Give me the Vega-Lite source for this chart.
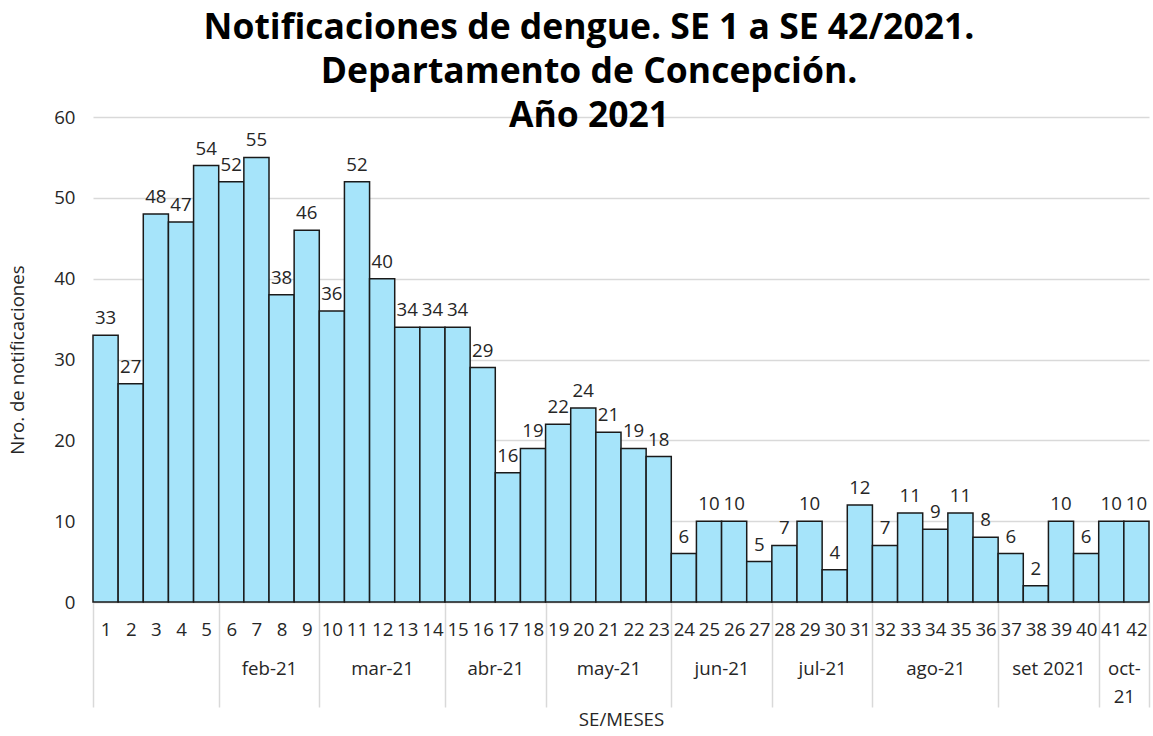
{
  "$schema": "https://vega.github.io/schema/vega-lite/v6.json",
  "width": 1056,
  "height": 485,
  "autosize": {"type": "none"},
  "padding": {"left": 93, "top": 117, "right": 4, "bottom": 134},
  "background": "white",
  "config": {
    "view": {"stroke": null},
    "font": "Open Sans",
    "text": {"font": "Open Sans"}
  },
  "title": {
    "text": ["Notificaciones de dengue. SE 1 a SE 42/2021.", "Departamento de Concepción.", "Año 2021"],
    "font": "Open Sans",
    "fontSize": 35.5,
    "fontWeight": "bold",
    "lineHeight": 44,
    "color": "#000000",
    "anchor": "middle",
    "dx": -32,
    "offset": -26
  },
  "datasets": {
    "semanas": [
      {"SE": 1, "n": 33}, {"SE": 2, "n": 27}, {"SE": 3, "n": 48}, {"SE": 4, "n": 47}, {"SE": 5, "n": 54},
      {"SE": 6, "n": 52}, {"SE": 7, "n": 55}, {"SE": 8, "n": 38}, {"SE": 9, "n": 46}, {"SE": 10, "n": 36},
      {"SE": 11, "n": 52}, {"SE": 12, "n": 40}, {"SE": 13, "n": 34}, {"SE": 14, "n": 34}, {"SE": 15, "n": 34},
      {"SE": 16, "n": 29}, {"SE": 17, "n": 16}, {"SE": 18, "n": 19}, {"SE": 19, "n": 22}, {"SE": 20, "n": 24},
      {"SE": 21, "n": 21}, {"SE": 22, "n": 19}, {"SE": 23, "n": 18}, {"SE": 24, "n": 6}, {"SE": 25, "n": 10},
      {"SE": 26, "n": 10}, {"SE": 27, "n": 5}, {"SE": 28, "n": 7}, {"SE": 29, "n": 10}, {"SE": 30, "n": 4},
      {"SE": 31, "n": 12}, {"SE": 32, "n": 7}, {"SE": 33, "n": 11}, {"SE": 34, "n": 9}, {"SE": 35, "n": 11},
      {"SE": 36, "n": 8}, {"SE": 37, "n": 6}, {"SE": 38, "n": 2}, {"SE": 39, "n": 10}, {"SE": 40, "n": 6},
      {"SE": 41, "n": 10}, {"SE": 42, "n": 10}
    ],
    "meses": [
      {"mes": "", "inicio": 0.5, "centro": 3},
      {"mes": "feb-21", "inicio": 5.5, "centro": 7.5},
      {"mes": "mar-21", "inicio": 9.5, "centro": 12},
      {"mes": "abr-21", "inicio": 14.5, "centro": 16.5},
      {"mes": "may-21", "inicio": 18.5, "centro": 21},
      {"mes": "jun-21", "inicio": 23.5, "centro": 25.5},
      {"mes": "jul-21", "inicio": 27.5, "centro": 29.5},
      {"mes": "ago-21", "inicio": 31.5, "centro": 34},
      {"mes": "set 2021", "inicio": 36.5, "centro": 38.5},
      {"mes": "oct-21", "inicio": 40.5, "centro": 41.5}
    ]
  },
  "resolve": {"axis": {"x": "independent"}},
  "layer": [
    {
      "data": {"name": "semanas"},
      "transform": [
        {"calculate": "datum.SE - 0.5", "as": "x0"},
        {"calculate": "datum.SE + 0.5", "as": "x1"}
      ],
      "mark": {"type": "bar", "fill": "#A6E4FA", "stroke": "#1A1A1A", "strokeWidth": 1.5},
      "encoding": {
        "x": {
          "field": "x0", "type": "quantitative",
          "scale": {"domain": [0.5, 42.5], "nice": false, "zero": false},
          "axis": {
            "orient": "bottom",
            "values": [1,2,3,4,5,6,7,8,9,10,11,12,13,14,15,16,17,18,19,20,21,22,23,24,25,26,27,28,29,30,31,32,33,34,35,36,37,38,39,40,41,42],
            "format": "d",
            "title": null,
            "grid": false,
            "ticks": false,
            "domain": true,
            "domainColor": "#D9D9D9",
            "domainWidth": 1.5,
            "labelFontSize": 18.67,
            "labelColor": "#262626",
            "labelPadding": 18,
            "labelOverlap": false,
            "labelFlush": false,
            "labelBound": false
          }
        },
        "x2": {"field": "x1"},
        "y": {
          "field": "n", "type": "quantitative",
          "scale": {"domain": [0, 60], "nice": false},
          "axis": {
            "values": [0, 10, 20, 30, 40, 50, 60],
            "title": "Nro. de notificaciones",
            "titleFontSize": 18.67,
            "titleFontWeight": "normal",
            "titleColor": "#262626",
            "titlePadding": 26,
            "grid": true,
            "gridColor": "#D9D9D9",
            "gridWidth": 1.5,
            "domain": false,
            "ticks": false,
            "labelFontSize": 18.67,
            "labelColor": "#262626",
            "labelPadding": 18
          }
        },
        "y2": {"datum": 0}
      }
    },
    {
      "data": {"name": "semanas"},
      "mark": {"type": "text", "baseline": "alphabetic", "align": "center", "dy": -11, "fontSize": 18.67, "color": "#262626"},
      "encoding": {
        "x": {"field": "SE", "type": "quantitative", "axis": null},
        "y": {"field": "n", "type": "quantitative"},
        "text": {"field": "n", "type": "quantitative"}
      }
    },
    {
      "data": {"name": "meses"},
      "mark": {"type": "text", "opacity": 0, "text": ""},
      "encoding": {
        "x": {
          "field": "centro", "type": "quantitative",
          "axis": {
            "orient": "bottom",
            "values": [3, 7.5, 12, 16.5, 21, 25.5, 29.5, 34, 38.5, 41.5],
            "labelExpr": "datum.value == 7.5 ? 'feb-21' : datum.value == 12 ? 'mar-21' : datum.value == 16.5 ? 'abr-21' : datum.value == 21 ? 'may-21' : datum.value == 25.5 ? 'jun-21' : datum.value == 29.5 ? 'jul-21' : datum.value == 34 ? 'ago-21' : datum.value == 38.5 ? 'set 2021' : datum.value == 41.5 ? ['oct-', '21'] : ''",
            "title": null,
            "grid": false,
            "ticks": false,
            "domain": false,
            "labelFontSize": 18.67,
            "labelColor": "#262626",
            "labelPadding": 57,
            "labelLineHeight": 28,
            "labelOverlap": false,
            "labelFlush": false,
            "labelBound": false
          }
        }
      }
    },
    {
      "data": {"name": "meses"},
      "mark": {"type": "text", "opacity": 0, "text": ""},
      "encoding": {
        "x": {
          "field": "inicio", "type": "quantitative",
          "axis": {
            "orient": "bottom",
            "values": [0.5, 5.5, 9.5, 14.5, 18.5, 23.5, 27.5, 31.5, 36.5, 40.5, 42.5],
            "labels": false,
            "grid": false,
            "ticks": true,
            "tickSize": 105,
            "tickColor": "#D9D9D9",
            "tickWidth": 1.5,
            "domain": false,
            "title": "SE/MESES",
            "titleFontSize": 18.67,
            "titleFontWeight": "normal",
            "titleColor": "#262626",
            "titlePadding": 3
          }
        }
      }
    }
  ]
}
